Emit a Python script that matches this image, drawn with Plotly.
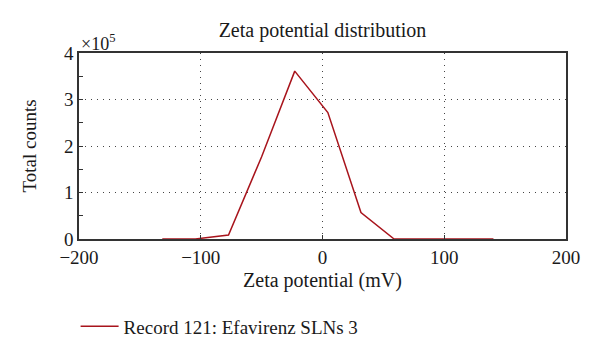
import plotly.graph_objects as go

zeta_mv = [-131.6, -104.4, -77.2, -50.0, -22.8, 4.4, 31.6, 58.8, 86.0, 113.2, 140.4]
total_counts = [0, 0, 8600, 177000, 361000, 272000, 57000, 0, 0, 0, 0]
series_name = "Record 121: Efavirenz SLNs 3"
x_ticks = [-200, -100, 0, 100, 200]
y_ticks = [0, 100000, 200000, 300000, 400000]
y_ticktext = ["0", "1", "2", "3", "4"]

FONT = "Liberation Serif"
# page has an 8px body margin; figure is sized/placed to compensate
W, H = 584, 347
L, R, T, B = 71, 26, 45, 116

fig = go.Figure()
fig.add_trace(go.Scatter(
    x=zeta_mv, y=total_counts, mode="lines", name=series_name,
    line=dict(color="#a8141c", width=1.5),
))

fig.update_layout(
    width=W, height=H,
    margin=dict(l=L, r=R, t=T, b=B, autoexpand=False),
    paper_bgcolor="white", plot_bgcolor="white",
    font=dict(family=FONT, size=19, color="#1a1a1a"),
    title=dict(text="Zeta potential distribution", x=(L + (W - L - R) / 2) / W, xanchor="center",
               y=1 - 22 / H, yanchor="middle", font=dict(size=20)),
    showlegend=True,
    legend=dict(x=-0.007, xanchor="left", y=-0.47, yanchor="middle", itemwidth=38,
                font=dict(size=19), bgcolor="rgba(0,0,0,0)"),
)

grid_dash = "1px,5px"
fig.update_xaxes(
    range=[-200, 200], tickvals=x_ticks,
    ticktext=["\u2212200", "\u2212100", "0", "100", "200"],
    showline=True, linecolor="#333", linewidth=1.5, mirror=True,
    ticks="inside", ticklen=4, tickcolor="#333",
    showgrid=True, gridcolor="#444", gridwidth=1, griddash=grid_dash,
    zeroline=False, automargin=False,
    title=dict(text="Zeta potential (mV)", font=dict(size=20), standoff=6),
    tickfont=dict(size=19),
)
fig.update_yaxes(
    range=[0, 400000], tickvals=y_ticks, ticktext=y_ticktext,
    showline=True, linecolor="#333", linewidth=1.5, mirror=True,
    ticks="inside", ticklen=4, tickcolor="#333",
    minor=dict(ticks="inside", ticklen=4, tickcolor="#333", dtick=50000, showgrid=False),
    showgrid=True, gridcolor="#444", gridwidth=1, griddash=grid_dash,
    zeroline=False, automargin=False,
    title=dict(text="Total counts", font=dict(size=19), standoff=22),
    tickfont=dict(size=19),
)

fig.add_annotation(
    text="\u00d710<sup>5</sup>", xref="paper", yref="paper",
    x=0, y=1, xanchor="left", yanchor="bottom", showarrow=False,
    font=dict(size=18, family=FONT), yshift=-3,
)

fig.write_html("out.html")
